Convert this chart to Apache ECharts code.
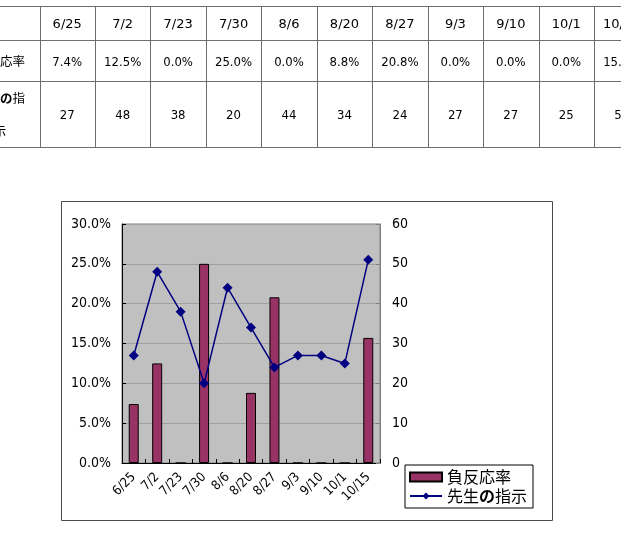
<!DOCTYPE html>
<html>
<head>
<meta charset="utf-8">
<script src="https://cdn.jsdelivr.net/npm/echarts@6/dist/echarts.min.js"></script>
<style>
html,body{margin:0;padding:0;background:#fff;overflow:hidden;width:621px;height:533px;}
#chart{position:absolute;left:0;top:0;width:621px;height:533px;}
#table{position:absolute;left:0;top:0;width:621px;height:160px;overflow:hidden;z-index:2;
  font-family:"DejaVu Sans Condensed","DejaVu Sans","Noto Sans CJK JP",sans-serif;color:#000;}
.cell{position:absolute;text-align:center;white-space:nowrap;}
.hl{position:absolute;height:1px;background:#6e6e6e;}
.vl{position:absolute;width:1px;background:#6e6e6e;}
</style>
</head>
<body>
<div id="chart"></div>
<div id="table"></div>
<script>
// ---- data ----
const categories = ['6/25','7/2','7/23','7/30','8/6','8/20','8/27','9/3','9/10','10/1','10/15'];
const negRate = [7.4, 12.5, 0.0, 25.0, 0.0, 8.8, 20.8, 0.0, 0.0, 0.0, 15.7]; // 負反応率 (%)
const instruction = [27, 48, 38, 20, 44, 34, 24, 27, 27, 25, 51];           // 先生の指示
const seriesNames = ['負反応率', '先生の指示'];
const leftTicks = [0, 30, 5];   // min, max, interval (%)
const rightTicks = [0, 60, 10]; // min, max, interval

// ---- table (spreadsheet excerpt) ----
(function buildTable(){
  const t = document.getElementById('table');
  const colX0 = 39.5, colW = 55.45;
  const rowsY = [6, 40, 81, 147];
  rowsY.forEach(y => { const d = document.createElement('div'); d.className='hl';
    d.style.left='0px'; d.style.width='621px'; d.style.top=y+'px'; t.appendChild(d); });
  for (let i = 0; i <= categories.length; i++) {
    const x = Math.round(colX0 + colW * i);
    const d = document.createElement('div'); d.className='vl';
    d.style.left = x + 'px'; d.style.top = rowsY[0] + 'px';
    d.style.height = (rowsY[3] - rowsY[0]) + 'px'; t.appendChild(d);
  }
  function put(html, cx, cy, size, font) {
    const d = document.createElement('div'); d.className='cell';
    d.style.left = (cx - 50) + 'px'; d.style.width = '100px';
    d.style.top = (cy - 10) + 'px'; d.style.lineHeight = '20px';
    d.style.fontSize = size + 'px';
    if (font) d.style.fontFamily = font;
    d.innerHTML = html; t.appendChild(d);
  }
  const dateFont = '"DejaVu Sans",sans-serif';
  categories.forEach((c, i) => {
    const cx = colX0 + colW * (i + 0.5);
    put(c, cx, 24, 13, dateFont);
    put(negRate[i].toFixed(1) + '%', cx, 61.5, 13);
    put(String(instruction[i]), cx, 115, 13);
  });
  const cjk = '"Noto Sans CJK JP",sans-serif';
  put(seriesNames[0], 0, 61, 12.5, cjk);
  put('先生<b>の</b>指', 0, 98, 12.5, cjk);
  put('示', 0, 131, 12.5, cjk);
})();

// ---- chart ----
const chart = echarts.init(document.getElementById('chart'), null, {renderer: 'canvas'});
const axisFont = '"DejaVu Sans Condensed","DejaVu Sans",sans-serif';
chart.setOption({
  backgroundColor: '#ffffff',
  animation: false,
  graphic: [{
    type: 'rect', silent: true, z: 0,
    shape: {x: 61.5, y: 201.5, width: 491, height: 319},
    style: {fill: 'none', stroke: '#4a4a4a', lineWidth: 1}
  }],
  grid: {
    left: 122, top: 224, right: 241, bottom: 70,
    show: true, backgroundColor: '#c0c0c0', borderColor: '#808080', borderWidth: 1
  },
  legend: {
    orient: 'vertical', left: 405, top: 465,
    backgroundColor: '#ffffff', borderColor: '#000', borderWidth: 1,
    padding: [4, 6, 4, 4], itemGap: 3, itemWidth: 32, itemHeight: 9,
    textStyle: {
      fontSize: 16, color: '#000', fontFamily: '"Noto Sans CJK JP",sans-serif',
      rich: {b: {fontSize: 16, fontWeight: 'bold', fontFamily: '"Noto Sans CJK JP",sans-serif'}}
    },
    formatter: name => name === seriesNames[1] ? '先生{b|の}指示' : name,
    data: [{name: seriesNames[0], icon: 'rect'}, {name: seriesNames[1]}]
  },
  xAxis: {
    type: 'category', data: categories, boundaryGap: true,
    axisLine: {show: true, lineStyle: {color: '#000', width: 1}},
    axisTick: {show: true, inside: true, length: 4, lineStyle: {color: '#000'}},
    axisLabel: {rotate: 45, margin: 12, fontSize: 13, color: '#000', fontFamily: axisFont, interval: 0},
    splitLine: {show: false}
  },
  yAxis: [{
    type: 'value', min: leftTicks[0], max: leftTicks[1], interval: leftTicks[2],
    axisLine: {show: true, lineStyle: {color: '#000'}},
    axisTick: {show: true, inside: true, length: 4, lineStyle: {color: '#000'}},
    axisLabel: {margin: 11, fontSize: 14, color: '#000', fontFamily: axisFont,
      formatter: v => v.toFixed(1) + '%'},
    splitLine: {show: true, lineStyle: {color: '#a0a0a0', width: 1}}
  }, {
    type: 'value', min: rightTicks[0], max: rightTicks[1], interval: rightTicks[2],
    position: 'right',
    axisLine: {show: true, lineStyle: {color: '#808080'}},
    axisTick: {show: true, inside: true, length: 4, lineStyle: {color: '#808080'}},
    axisLabel: {margin: 12, fontSize: 14, color: '#000', fontFamily: axisFont},
    splitLine: {show: false}
  }],
  series: [{
    name: seriesNames[0], type: 'bar', yAxisIndex: 0, data: negRate,
    barWidth: 10,
    itemStyle: {color: '#993366', borderColor: '#000', borderWidth: 1}
  }, {
    name: seriesNames[1], type: 'line', yAxisIndex: 1, data: instruction,
    symbol: 'diamond', symbolSize: 10,
    lineStyle: {color: '#000080', width: 1.5},
    itemStyle: {color: '#000080'}
  }]
});
</script>
</body>
</html>
